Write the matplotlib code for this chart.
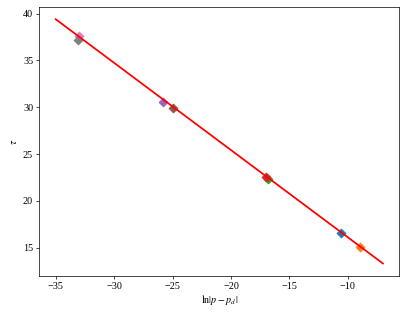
import matplotlib
matplotlib.use("Agg")
import matplotlib.pyplot as plt
import numpy as np

plt.rcParams['font.family'] = ['Liberation Serif', 'DejaVu Serif']
plt.rcParams['mathtext.fontset'] = 'stix'
plt.rcParams['font.size'] = 11.5

# data points (ln|p - p_d|, tau), one colour each
x_pts = [-10.6, -9.0, -16.8, -17.0, -25.8, -25.0, -33.0, -33.1]
y_pts = [16.6, 15.1, 22.3, 22.5, 30.6, 29.9, 37.6, 37.2]

# fitted line
fit_x = [-35.0, -7.0]
slope = -0.932
intercept = 39.4 + 0.932 * (-35.0)

dpi = 63.6
fig = plt.figure(figsize=(407 / dpi, 316 / dpi), dpi=dpi)
ax = fig.add_axes([39.3 / 407, 1 - 275.7 / 316, (399.3 - 39.3) / 407, (275.7 - 7) / 316])

for i, (xv, yv) in enumerate(zip(x_pts, y_pts)):
    ax.scatter([xv], [yv], marker='D', s=50, color=f'C{i}')

fx = np.array(fit_x)
ax.plot(fx, slope * fx + intercept, color='red', linewidth=2)

ax.set_xlabel(r'$\ln|p-p_d|$', labelpad=2)
ax.set_ylabel(r'$\tau$')
ax.set_yticks([15, 20, 25, 30, 35, 40])

fig.savefig('out.png', dpi=dpi)
